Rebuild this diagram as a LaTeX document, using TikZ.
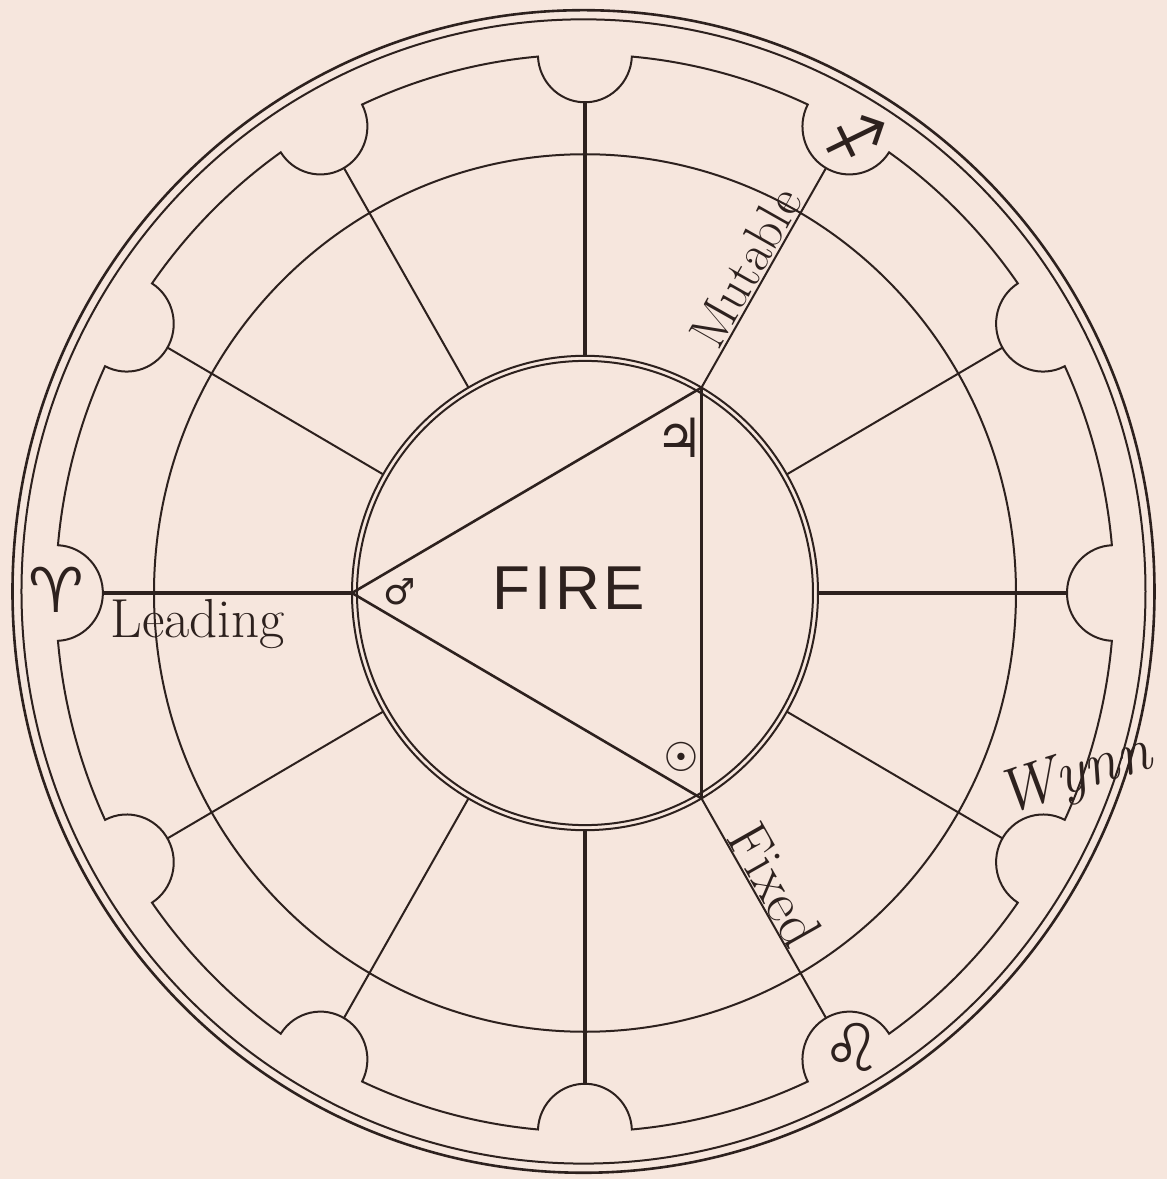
\documentclass[tikz,border=0pt]{standalone}
\usepackage{fontspec}
\usepackage{tikz}
\newfontfamily\symfont{DejaVu Sans}
\newfontfamily\firefont[LetterSpace=6]{Liberation Sans}
\definecolor{ink}{RGB}{45,33,30}
\definecolor{paper}{RGB}{246,230,221}
\newcommand{\ringR}{529}
\newcommand{\notchR}{47}
\newcommand{\notchA}{5.09}

\begin{document}
\begin{tikzpicture}[x=0.5pt,y=0.5pt,
    lbl/.style={text=ink,inner sep=0pt},
    sym/.style={lbl,font=\symfont\fontsize{#1}{#1}\selectfont}]
  \fill[paper] (-585,-586) rectangle (582,593);
  \useasboundingbox (-585,-586) rectangle (582,593);
  \begin{scope}[yscale=1.018, color=ink]
    \draw[line width=1.3pt] (-1.5,1.5) circle (571); \draw[line width=1pt] (-1.5,1.5) circle (562);
    \draw[line width=1pt] (\notchA:\ringR) \foreach \a in {0,30,...,330} {
        arc[start angle=\a+\notchA, end angle=\a+30-\notchA, radius=\ringR]
        arc[start angle=\a+30-90-\notchA/2, end angle=\a+30-270+\notchA/2, radius=\notchR] } -- cycle;
    \draw[line width=1pt] (0,0) circle (431);
    \draw[line width=1pt] (0,0) circle (233); \draw[line width=1pt] (0,0) circle (228);
    \foreach \a in {30,60,120,150,210,240,300,330} \draw[line width=1pt] (\a:233) -- (\a:482);
    \foreach \a in {0,90,180,270} \draw[line width=2pt] (\a:233) -- (\a:482);
    \draw[line width=1.3pt, line join=round] (180:233) -- (60:233) -- (300:233) -- cycle;
  \end{scope}
  \node[lbl, font=\firefont\fontsize{31}{31}\selectfont] (fire) at (-16,5) {FIRE};
  \node[sym=18] (mars) at (-185,1) {♂};
  \node[sym=27] (jupiter) at (95,155) {♃};
  \node[sym=20] (sun) at (96,-164) {☉};
  \node[sym=31] (aries) at (-529,3) {♈};
  \node[sym=32, rotate=-19] (sagittarius) at (270,455) {♐};
  \node[sym=33] (leo) at (267,-454) {♌};
  \node[lbl, font=\fontsize{27.5}{27.5}\selectfont, anchor=base west] (leading) at (-475,-44) {Leading};
  \node[lbl, font=\fontsize{26}{26}\selectfont, rotate=60.5, anchor=base] (mutable) at (176,317) {Mutable};
  \node[lbl, font=\fontsize{29}{29}\selectfont, rotate=-60.5, anchor=base] (fixed) at (173,-301) {Fixed};
  \node[lbl, font=\itshape\fontsize{31}{31}\selectfont, rotate=18] (wynn) at (490,-184) {Wynn};
\end{tikzpicture}
\end{document}
